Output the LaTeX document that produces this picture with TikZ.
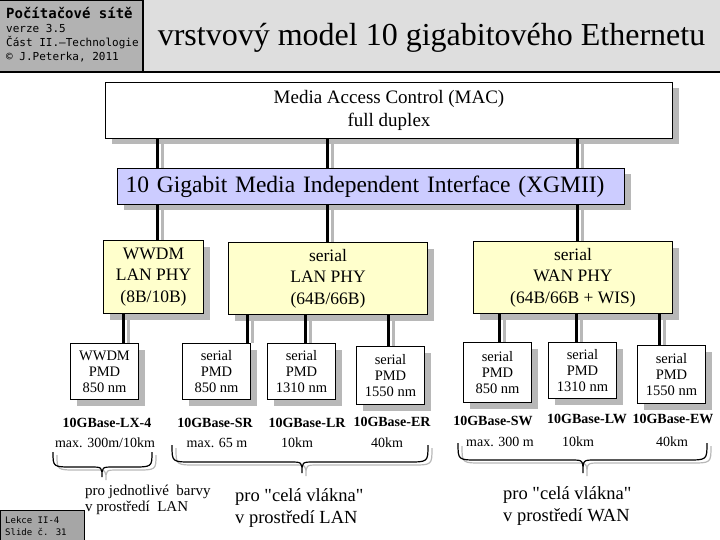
\documentclass[tikz,border=0pt]{standalone}
\usepackage{fontspec}
\setmainfont{Liberation Serif}[Ligatures=TeXOff]
\newfontfamily\headmono{DejaVu Sans Mono}
\usetikzlibrary{shadows,backgrounds}
\definecolor{headgray}{HTML}{B2B2B2}
\definecolor{titlegray}{HTML}{DEDEDE}
\definecolor{footgray}{HTML}{A6A6A6}
\definecolor{xgmiiblue}{HTML}{CCCCFF}
\definecolor{phyyellow}{HTML}{FFFFCC}
\definecolor{shadowgray}{HTML}{B8B8B8}
\newcommand{\ubrace}[6]{%
        \draw[brace line,shadowgray,xshift=4pt,yshift=-3pt] (#1,#4) .. controls (#1,#5) and (#1,#5) .. (#1+20,#5) -- (#2-12,#5) .. controls (#2,#5) and (#2,#5) .. (#2,#6) .. controls (#2,#5) and (#2,#5) .. (#2+12,#5) -- (#3-20,#5) .. controls (#3,#5) and (#3,#5) .. (#3,#4);
        \draw[brace line] (#1,#4) .. controls (#1,#5) and (#1,#5) .. (#1+20,#5) -- (#2-12,#5) .. controls (#2,#5) and (#2,#5) .. (#2,#6) .. controls (#2,#5) and (#2,#5) .. (#2+12,#5) -- (#3-20,#5) .. controls (#3,#5) and (#3,#5) .. (#3,#4);}
\begin{document}
\begin{tikzpicture}[x=1pt,y=-1pt,
        layer box/.style={draw,line width=1pt,inner sep=0pt,align=center,anchor=north west,
            drop shadow={shadow xshift=6pt,shadow yshift=-6pt,fill=shadowgray,opacity=1}},
        phy box/.style={layer box,fill=phyyellow,minimum height=72,font=\fontsize{17.5}{21.5}\selectfont},
        pmd box/.style={layer box,fill=white,minimum width=68,minimum height=56,font=\fontsize{14.5}{16}\selectfont},
        type label/.style={font=\bfseries\fontsize{14}{16}\selectfont},
        range label/.style={font=\fontsize{14}{16}\selectfont},
        head text/.style={anchor=west,inner sep=0pt,font=\headmono\fontsize{11}{13}\selectfont},
        note text/.style={anchor=north west,inner sep=0pt,align=left},
        link/.style={line width=3pt},
        link shadow/.style={line width=3pt,shadowgray,xshift=5pt,yshift=-5pt},
        brace line/.style={line width=1.2pt}]
        \useasboundingbox (0,0) rectangle (720,540);
        \fill[headgray] (0,0) rectangle (143,72);
        \fill[titlegray] (143,0) rectangle (720,72);
        \draw[line width=1.5pt] (0,0) -- (143,0) -- (143,72) (0,72) -- (720,72);
        \node[head text,font=\headmono\bfseries\fontsize{14}{16}\selectfont] (course) at (6,13) {Počítačové sítě};
        \node[head text] (version) at (6,28) {verze 3.5};
        \node[head text] (part) at (6,43) {Část II.–Technologie};
        \node[head text] (author) at (6,57) {© J.Peterka, 2011};
        \node[font=\fontsize{32}{36}\selectfont] (title) at (431.5,38) {vrstvový model 10 gigabitového Ethernetu};
        \fill[footgray,draw=black,line width=1pt] (0,510) rectangle (84,540);
        \node[head text,font=\headmono\fontsize{9}{11}\selectfont] (lesson) at (5,520) {Lekce II-4};
        \node[head text,font=\headmono\fontsize{9}{11}\selectfont] (slide) at (5,532) {Slide č. 31};

        \node[layer box,fill=white,minimum width=567,minimum height=56,font=\fontsize{19}{23}\selectfont] (mac) at (105,82) {Media Access Control (MAC)\\full duplex};
        \node[layer box,fill=xgmiiblue,minimum width=507,minimum height=36,text width=491,align=left,font=\fontsize{23.5}{26}\selectfont] (xgmii) at (117,168) {10 Gigabit Media Independent Interface (XGMII)};
        \node[phy box,minimum width=100,minimum height=73] (wwdmphy) at (103,240) {WWDM\\LAN PHY\\(8B/10B)};
        \node[phy box,minimum width=199] (lanphy) at (228,242) {serial\\LAN PHY\\(64B/66B)};
        \node[phy box,minimum width=199] (wanphy) at (473,241) {serial\\WAN PHY\\(64B/66B + WIS)};
        \node[pmd box] (wwdmpmd) at (70,343) {WWDM\\PMD\\850 nm};
        \node[pmd box] (srpmd) at (182,343) {serial\\PMD\\850 nm};
        \node[pmd box] (lrpmd) at (267,343) {serial\\PMD\\1310 nm};
        \node[pmd box,minimum height=58] (erpmd) at (356,346) {serial\\PMD\\1550 nm};
        \node[pmd box,minimum height=60] (swpmd) at (463,342) {serial\\PMD\\850 nm};
        \node[pmd box] (lwpmd) at (548,342) {serial\\PMD\\1310 nm};
        \node[pmd box,minimum height=58] (ewpmd) at (637,345) {serial\\PMD\\1550 nm};

        \begin{scope}[on background layer]
        \foreach \pa/\ch/\x in {mac/xgmii/157,mac/xgmii/327,mac/xgmii/577,xgmii/wwdmphy/157,xgmii/lanphy/327,xgmii/wanphy/577,wwdmphy/wwdmpmd/123,lanphy/srpmd/247,lanphy/lrpmd/305,lanphy/erpmd/388,wanphy/swpmd/499,wanphy/lwpmd/576,wanphy/ewpmd/659}
            \draw[link shadow] (\pa.south -| \x,0) -- (\ch.north -| \x,0);
        \end{scope}
        \foreach \pa/\ch/\x in {mac/xgmii/157,mac/xgmii/327,mac/xgmii/577,xgmii/wwdmphy/157,xgmii/lanphy/327,xgmii/wanphy/577,wwdmphy/wwdmpmd/123,lanphy/srpmd/247,lanphy/lrpmd/305,lanphy/erpmd/388,wanphy/swpmd/499,wanphy/lwpmd/576,wanphy/ewpmd/659}
            \draw[link] (\pa.south -| \x,0) -- (\ch.north -| \x,0);

        \node[type label] (lxname) at (107,423) {10GBase-LX-4};
        \node[range label] (lxrange) at (105,443) {max. 300m/10km};
        \node[type label] (srname) at (215,423) {10GBase-SR};
        \node[range label] (srrange) at (217,443) {max. 65 m};
        \node[type label] (lrname) at (307,423) {10GBase-LR};
        \node[range label] (lrrange) at (297,443) {10km};
        \node[type label] (ername) at (392,422) {10GBase-ER};
        \node[range label] (errange) at (387,443) {40km};
        \node[type label] (swname) at (493,421) {10GBase-SW};
        \node[range label] (swrange) at (500,442) {max. 300 m};
        \node[type label] (lwname) at (587,419) {10GBase-LW};
        \node[range label] (lwrange) at (578,442) {10km};
        \node[type label] (ewname) at (673,419) {10GBase-EW};
        \node[range label] (ewrange) at (672,442) {40km};

        \ubrace{53}{102}{152}{452}{467}{477}
        \ubrace{172}{302}{428}{445}{462}{473}
        \ubrace{458}{583}{707}{443}{460}{473}
        \node[note text,font=\fontsize{15}{15.5}\selectfont] (colournote) at (85,485) {pro jednotlivé\ \ barvy\\v prostředí\ \ LAN};
        \node[note text,font=\fontsize{18.5}{22}\selectfont] (lannote) at (235,488) {pro "celá vlákna"\\v prostředí LAN};
        \node[note text,font=\fontsize{18.5}{22}\selectfont] (wannote) at (503,486) {pro "celá vlákna"\\v prostředí WAN};
\end{tikzpicture}
\end{document}
